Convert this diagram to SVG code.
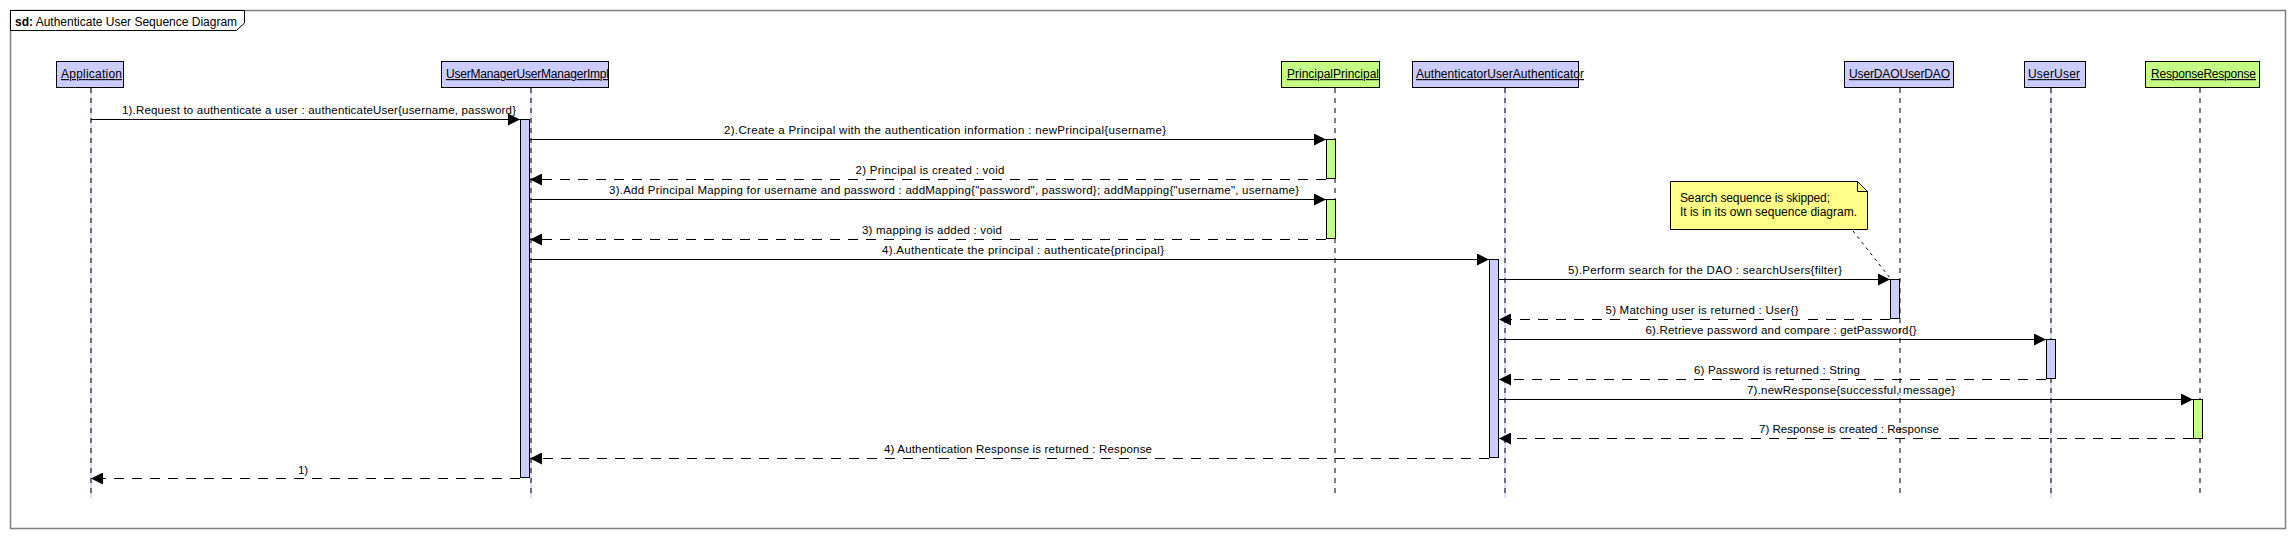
<svg xmlns="http://www.w3.org/2000/svg" width="2295" height="539" viewBox="0 0 2295 539">
<style>
text{font-family:"Liberation Sans",Arial,sans-serif;font-size:12px;fill:#000}
.box{fill:#ccccff;stroke:#000;stroke-width:1}
.gbox{fill:#c4ff85;stroke:#000;stroke-width:1}
.name{text-decoration:underline}
.ll{stroke:#000;stroke-width:1;stroke-dasharray:5,5;fill:none}
.llb{stroke:#b8b8ff;stroke-width:1;fill:none}
.act{fill:#ccccff;stroke:#000;stroke-width:1}
.gact{fill:#c4ff85;stroke:#000;stroke-width:1}
.msg{stroke:#000;stroke-width:1;fill:none;marker-end:url(#ah)}
.ret{stroke:#000;stroke-width:1;fill:none;stroke-dasharray:10,8;marker-end:url(#ah)}
.lbl{text-anchor:middle;font-size:11.5px}
</style>
<defs>
<marker id="ah" markerUnits="userSpaceOnUse" markerWidth="13" markerHeight="12" refX="12" refY="6" orient="auto">
<path d="M0,0 L12,6 L0,12 z" fill="#000"/>
</marker>
</defs>
<rect x="0" y="0" width="2295" height="539" fill="#fff"/>
<g id="frame">
<rect x="10.5" y="10.5" width="2275" height="518" fill="#fff" stroke="#808080" stroke-width="1.5"/>
<path d="M10.5,10.5 H244.5 V23 L236.5,30.5 H10.5 Z" fill="#fff" stroke="#000" stroke-width="1"/>
<text x="15" y="26"><tspan font-weight="bold">sd:</tspan> Authenticate User Sequence Diagram</text>
</g>
<g id="lifelines">
<line class="llb" x1="91" y1="88" x2="91" y2="498"/>
<line class="ll" x1="91" y1="88" x2="91" y2="498"/>
<line class="llb" x1="531" y1="88" x2="531" y2="498"/>
<line class="ll" x1="531" y1="88" x2="531" y2="498"/>
<line class="ll" x1="1335" y1="88" x2="1335" y2="498"/>
<line class="llb" x1="1505" y1="88" x2="1505" y2="498"/>
<line class="ll" x1="1505" y1="88" x2="1505" y2="498"/>
<line class="ll" x1="1900" y1="88" x2="1900" y2="498"/>
<line class="llb" x1="2051" y1="88" x2="2051" y2="498"/>
<line class="ll" x1="2051" y1="88" x2="2051" y2="498"/>
<line class="ll" x1="2200" y1="88" x2="2200" y2="498"/>
</g>
<g id="Application">
<rect class="box" x="56.5" y="61.5" width="67" height="26"/>
<text class="name" x="61" y="78" textLength="61">Application</text>
</g>
<g id="UserManager">
<rect class="box" x="441.5" y="61.5" width="167" height="26"/>
<text class="name" x="446" y="78" textLength="163">UserManagerUserManagerImpl</text>
<rect class="act" x="520.5" y="119.5" width="9" height="358"/>
</g>
<g id="Principal">
<rect class="gbox" x="1281.5" y="61.5" width="98" height="26"/>
<text class="name" x="1287" y="78" textLength="92">PrincipalPrincipal</text>
<rect class="gact" x="1326.5" y="139.5" width="9" height="39"/>
<rect class="gact" x="1326.5" y="199.5" width="9" height="39"/>
</g>
<g id="Authenticator">
<rect class="box" x="1412.5" y="61.5" width="166" height="26"/>
<text class="name" x="1416" y="78" textLength="168">AuthenticatorUserAuthenticator</text>
<rect class="act" x="1489.5" y="259.5" width="9" height="198"/>
</g>
<g id="UserDAO">
<rect class="box" x="1844.5" y="61.5" width="109" height="26"/>
<text class="name" x="1849" y="78" textLength="101">UserDAOUserDAO</text>
<rect class="act" x="1890.5" y="279.5" width="9" height="39"/>
</g>
<g id="User">
<rect class="box" x="2024.5" y="61.5" width="61" height="26"/>
<text class="name" x="2028" y="78" textLength="52">UserUser</text>
<rect class="act" x="2046.5" y="339.5" width="9" height="39"/>
</g>
<g id="Response">
<rect class="gbox" x="2145.5" y="61.5" width="114" height="26"/>
<text class="name" x="2151" y="78" textLength="105">ResponseResponse</text>
<rect class="gact" x="2193.5" y="399.5" width="9" height="39"/>
</g>
<g id="note">
<path d="M1670.5,181.5 H1857.5 L1867.5,191.5 V229.5 H1670.5 Z" fill="#ffff88" stroke="#000" stroke-width="1"/>
<path d="M1857.5,181.5 V191.5 H1867.5" fill="none" stroke="#000" stroke-width="1"/>
<text x="1680" y="202" textLength="150">Search sequence is skipped;</text>
<text x="1680" y="216" textLength="177">It is in its own sequence diagram.</text>
</g>
<g id="connectors">
<line x1="1853" y1="231" x2="1890" y2="278" stroke="#000" stroke-width="1" stroke-dasharray="3,4"/>
<line class="msg" x1="91" y1="119.5" x2="520" y2="119.5"/>
<text class="lbl" x="319" y="114" textLength="394">1).Request to authenticate a user : authenticateUser{username, password}</text>
<line class="msg" x1="530" y1="139.5" x2="1326" y2="139.5"/>
<text class="lbl" x="945" y="134" textLength="442">2).Create a Principal with the authentication information : newPrincipal{username}</text>
<line class="ret" x1="1326" y1="179.5" x2="530" y2="179.5"/>
<text class="lbl" x="930" y="174" textLength="149">2) Principal is created : void</text>
<line class="msg" x1="530" y1="199.5" x2="1326" y2="199.5"/>
<text class="lbl" x="954" y="194" textLength="690">3).Add Principal Mapping for username and password : addMapping{"password", password}; addMapping{"username", username}</text>
<line class="ret" x1="1326" y1="239.5" x2="530" y2="239.5"/>
<text class="lbl" x="932" y="234" textLength="140">3) mapping is added : void</text>
<line class="msg" x1="530" y1="259.5" x2="1489" y2="259.5"/>
<text class="lbl" x="1023" y="254" textLength="282">4).Authenticate the principal : authenticate{principal}</text>
<line class="msg" x1="1499" y1="279.5" x2="1890" y2="279.5"/>
<text class="lbl" x="1705" y="274" textLength="274">5).Perform search for the DAO : searchUsers{filter}</text>
<line class="ret" x1="1890" y1="319.5" x2="1499" y2="319.5"/>
<text class="lbl" x="1702" y="314" textLength="193">5) Matching user is returned : User{}</text>
<line class="msg" x1="1499" y1="339.5" x2="2046" y2="339.5"/>
<text class="lbl" x="1781" y="334" textLength="271">6).Retrieve password and compare : getPassword{}</text>
<line class="ret" x1="2046" y1="379.5" x2="1499" y2="379.5"/>
<text class="lbl" x="1777" y="374" textLength="166">6) Password is returned : String</text>
<line class="msg" x1="1499" y1="399.5" x2="2193" y2="399.5"/>
<text class="lbl" x="1851" y="394" textLength="208">7).newResponse{successful, message}</text>
<line class="ret" x1="2193" y1="438.5" x2="1499" y2="438.5"/>
<text class="lbl" x="1849" y="433" textLength="180">7) Response is created : Response</text>
<line class="ret" x1="1489" y1="458.5" x2="530" y2="458.5"/>
<text class="lbl" x="1018" y="453" textLength="268">4) Authentication Response is returned : Response</text>
<line class="ret" x1="520" y1="478.5" x2="91" y2="478.5"/>
<text class="lbl" x="303" y="474">1)</text>
</g>
</svg>
